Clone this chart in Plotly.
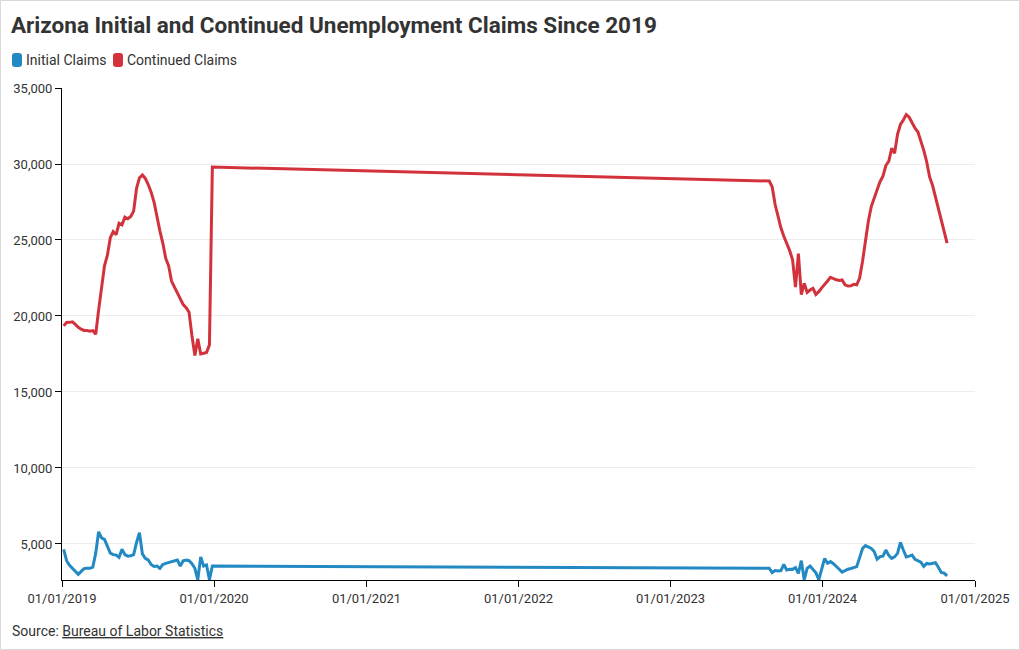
import pandas as pd
import plotly.graph_objects as go

# ---- data ----
dates_2019 = pd.date_range("2019-01-05", periods=52, freq="7D")
dates_2023 = pd.date_range("2023-08-26", periods=62, freq="7D")

initial_2019 = [4650, 3900, 3600, 3400, 3250, 3000, 3200, 3380, 3400, 3400,
                3480, 4400, 5800, 5400, 5300, 4800, 4400, 4300, 4270, 4120,
                4650, 4300, 4200, 4220, 4300, 5100, 5750, 4350, 4050, 3950,
                3650, 3520, 3550, 3400, 3650, 3720, 3770, 3820, 3870, 3950,
                3550, 3900, 3950, 3900, 3700, 3400, 2650, 4150, 3550, 3620,
                2650, 3550]
continued_2019 = [19350, 19570, 19580, 19620, 19450, 19250, 19130, 19050, 19040, 19000,
                  19040, 18800, 20400, 22000, 23300, 24000, 25150, 25550, 25350, 26100,
                  26000, 26500, 26400, 26550, 26900, 28400, 29100, 29280, 29050, 28650,
                  28150, 27500, 26500, 25600, 24800, 23800, 23300, 22300, 21900, 21500,
                  21050, 20750, 20550, 20250, 18700, 17400, 18500, 17500, 17550, 17600,
                  18100, 29800]
initial_2023 = [3400, 3120, 3250, 3220, 3250, 3650, 3290, 3340, 3330, 3450,
                3070, 3900, 2650, 3400, 3550, 3300, 3100, 2650, 3290, 4050,
                3730, 3840, 3700, 3550, 3340, 3150, 3250, 3340, 3390, 3450,
                3510, 4100, 4700, 4900, 4800, 4710, 4500, 4000, 4170, 4200,
                4600, 4250, 4050, 4150, 4380, 5100, 4600, 4150, 4200, 4270,
                3990, 3900, 3800, 3520, 3720, 3690, 3720, 3770, 3470, 3130,
                3080, 2900]
continued_2023 = [28880, 28500, 27350, 26600, 25800, 25250, 24800, 24300, 23700, 21900,
                  24100, 21400, 22150, 21550, 21710, 21820, 21420, 21600, 21850, 22050,
                  22300, 22550, 22450, 22380, 22330, 22370, 22050, 21970, 21990, 22080,
                  22050, 22500, 23600, 25000, 26250, 27200, 27800, 28300, 28835, 29200,
                  29900, 30180, 31030, 30700, 31950, 32600, 32895, 33250, 33080, 32700,
                  32350, 32100, 31550, 30900, 30150, 29150, 28600, 27800, 27050, 26300,
                  25550, 24800]

series_names = ["Initial Claims", "Continued Claims"]
y_ticks = [5000, 10000, 15000, 20000, 25000, 30000, 35000]
x_ticks = ["2019-01-01", "2020-01-01", "2021-01-01", "2022-01-01",
           "2023-01-01", "2024-01-01", "2025-01-01"]

dates = list(dates_2019) + list(dates_2023)
initial = initial_2019 + initial_2023
continued = continued_2019 + continued_2023

BLUE = "#2389c3"
RED = "#d2323b"
TXT = "#333333"
FONT = "Roboto"

W, H = 1020, 650
L, R, T, B = 62, 45, 88, 70
PW, PH = W - L - R, H - T - B


def px(x):
    return (x - L) / PW


def py(y):
    return (H - B - y) / PH


fig = go.Figure()
fig.add_trace(go.Scatter(x=dates, y=initial, mode="lines", name=series_names[0],
                         line=dict(color=BLUE, width=3)))
fig.add_trace(go.Scatter(x=dates, y=continued, mode="lines", name=series_names[1],
                         line=dict(color=RED, width=3)))

fig.update_layout(
    width=W, height=H,
    margin=dict(l=L, r=R, t=T, b=B, autoexpand=False),
    paper_bgcolor="white", plot_bgcolor="white",
    font=dict(family=FONT, color=TXT, size=13),
    showlegend=False,
    title=dict(text="<b>Arizona Initial and Continued Unemployment Claims Since 2019</b>",
               x=11 / W, xanchor="left", xref="container",
               y=1 - 25 / H, yanchor="middle", yref="container",
               font=dict(family=FONT, size=22.5, color=TXT)),
    xaxis=dict(type="date", range=["2019-01-01", "2025-01-01"],
               tickvals=x_ticks, tickformat="%m/%d/%Y",
               showgrid=False, showline=True, linecolor="black", linewidth=1,
               ticks="outside", ticklen=6, tickcolor="black",
               tickfont=dict(family=FONT, size=13, color=TXT), zeroline=False),
    yaxis=dict(range=[2630, 35000], tickvals=y_ticks, tickformat=",",
               showgrid=True, gridcolor="#ececec", gridwidth=1,
               showline=True, linecolor="black", linewidth=1,
               ticks="outside", ticklen=6, tickcolor="black",
               tickfont=dict(family=FONT, size=13, color=TXT), zeroline=False),
)

# custom legend (rounded swatches + labels)
def rounded_rect(x0, y0, x1, y1, r=3):
    X0, X1 = px(x0), px(x1)
    Y0, Y1 = py(y0), py(y1)  # Y0 is top in paper coords
    rx, ry = r / PW, r / PH
    return (f"M {X0+rx},{Y0} L {X1-rx},{Y0} Q {X1},{Y0} {X1},{Y0-ry} "
            f"L {X1},{Y1+ry} Q {X1},{Y1} {X1-rx},{Y1} L {X0+rx},{Y1} "
            f"Q {X0},{Y1} {X0},{Y1+ry} L {X0},{Y0-ry} Q {X0},{Y0} {X0+rx},{Y0} Z")


legend_items = [(BLUE, series_names[0], 12, 22, 25), (RED, series_names[1], 113, 123, 126)]
for color, name, sx0, sx1, tx in legend_items:
    fig.add_shape(type="path", xref="paper", yref="paper",
                  path=rounded_rect(sx0, 53, sx1, 67),
                  fillcolor=color, line=dict(width=0))
    fig.add_annotation(text=name, xref="paper", yref="paper", x=px(tx - 1), y=py(60),
                       xanchor="left", yanchor="middle", showarrow=False,
                       font=dict(family=FONT, size=14, color=TXT))

fig.add_annotation(
    text='Source: <span style="text-decoration:underline">Bureau of Labor Statistics</span>',
    xref="paper", yref="paper", x=px(10), y=py(631),
    xanchor="left", yanchor="middle", showarrow=False,
    font=dict(family=FONT, size=14, color=TXT))

fig.add_shape(type="rect", xref="paper", yref="paper",
              x0=px(0.5), x1=px(W - 0.5), y0=py(H - 0.5), y1=py(0.5),
              line=dict(color="#d9d9d9", width=1), fillcolor="rgba(0,0,0,0)", layer="below")

fig.write_html("out.html")
